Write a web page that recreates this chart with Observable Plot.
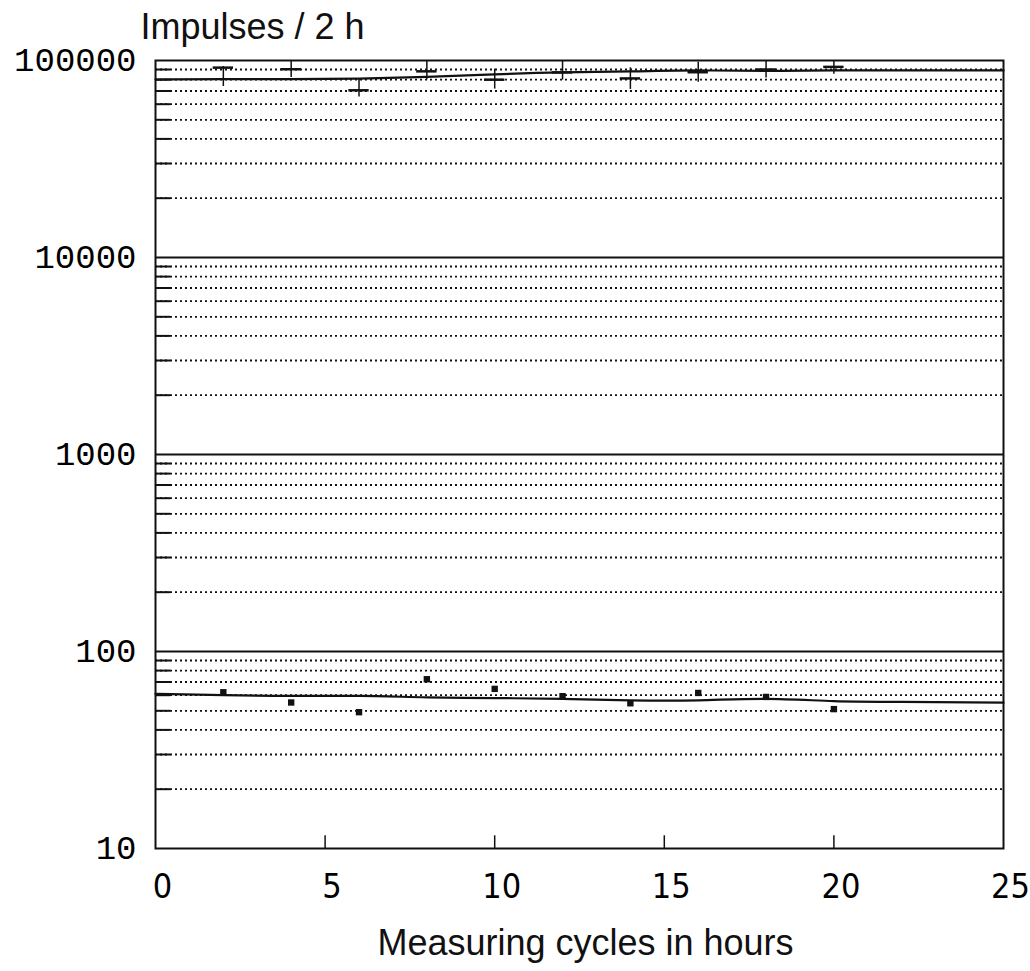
<!DOCTYPE html>
<html><head><meta charset="utf-8">
<script src="https://cdn.jsdelivr.net/npm/d3@7"></script>
<script src="https://cdn.jsdelivr.net/npm/@observablehq/plot@0.6"></script>
<style>body{margin:0;background:#fff}</style>
</head><body><div id="chart"></div>
<script>
// Measuring points (hours)
const hours = [2, 4, 6, 8, 10, 12, 14, 16, 18, 20];
// Upper series (impulses / 2 h): mean, lower and upper error limits
const highMean = [92000, 90300, 70600, 88100, 79900, 87000, 81100, 87200, 90000, 92800];
const highLow  = [73800, 82000, 65300, 79900, 71600, 79600, 71300, 77600, 81400, 85200];
const highHigh = [93200, 99500, 80900, 99000, 90400, 99000, 91800, 98000, 99000, 99500];
// Smoothed curve through the upper series
const fitX = [0, 2, 4, 6, 8, 10, 12, 14, 16, 18, 20, 22, 25];
const highFit = [80000, 80500, 80500, 81000, 82500, 85000, 87000, 88000, 89000, 88500, 89000, 89000, 89000];
// Lower series (impulses / 2 h)
const lowMean = [62.1, 55.1, 49.2, 72.3, 64.6, 59.3, 54.6, 61.6, 58.8, 51.0];
const lowFit = [61, 60, 59.5, 59.5, 58.5, 58, 57.5, 56.5, 56.5, 57.5, 56, 55.5, 55];
// Axis ticks
const xTicks = [0, 5, 10, 15, 20, 25];
const yTicks = [10, 100, 1000, 10000, 100000];
const innerXTicks = [5, 10, 15, 20];

const decades = [100, 1000, 10000];
const minors = [];
for (const d of [10, 100, 1000, 10000]) for (let m = 2; m <= 9; m++) minors.push(d * m);

const idx = hours.map((_, i) => i);
const fit = fitX.map((x, i) => ({x, hi: highFit[i], lo: lowFit[i]}));
const ink = "#111";

const chart = Plot.plot({
  width: 1030,
  height: 971,
  marginLeft: 155,
  marginRight: 27,
  marginTop: 60,
  marginBottom: 123,
  x: {domain: [0, 25]},
  y: {type: "log", domain: [10, 100000]},
  marks: [
    // dotted minor grid with short solid stubs at the left
    Plot.ruleY(minors, {y: d => d, stroke: ink, strokeWidth: 1.8, strokeDasharray: "2,3"}),
    Plot.ruleY(minors, {y: d => d, x1: 0, x2: 0.45, stroke: ink, strokeWidth: 2}),
    // decade lines
    Plot.ruleY(decades, {y: d => d, stroke: ink, strokeWidth: 2}),
    // inner x ticks
    Plot.ruleX(innerXTicks, {x: d => d, y1: 10, y2: 11.6, stroke: ink, strokeWidth: 1.5}),
    Plot.frame({stroke: ink, strokeWidth: 2}),
    // upper series
    Plot.line(fit, {x: "x", y: "hi", curve: "natural", stroke: ink, strokeWidth: 2.2}),
    Plot.ruleX(idx, {x: i => hours[i], y1: i => highLow[i], y2: i => highHigh[i], stroke: ink, strokeWidth: 1.5}),
    Plot.ruleY(idx, {x1: i => hours[i] - 0.3, x2: i => hours[i] + 0.3, y: i => highMean[i], stroke: ink, strokeWidth: 2.5}),
    // lower series
    Plot.line(fit, {x: "x", y: "lo", curve: "natural", stroke: ink, strokeWidth: 2.2}),
    Plot.dot(idx, {x: i => hours[i], y: i => lowMean[i], symbol: "square", r: 3.6, fill: ink}),
    // axes
    Plot.axisX({ticks: xTicks, tickSize: 0, tickPadding: 25, dx: 7, fontSize: 34,
      fontFamily: "'Liberation Sans Narrow', 'DejaVu Sans Condensed', sans-serif", label: null, tickFormat: d => String(d)}),
    Plot.axisY({ticks: yTicks, tickSize: 0, tickPadding: 19, fontSize: 34,
      fontFamily: "'Liberation Mono', monospace", label: null, tickFormat: d => String(d)}),
    // titles
    Plot.text(["Impulses / 2 h"], {frameAnchor: "top-left", text: d => d, textAnchor: "start", dx: -15, dy: -47,
      fontSize: 36, fontFamily: "'Liberation Sans', Arial, sans-serif", fill: ink}),
    Plot.text(["Measuring cycles in hours"], {frameAnchor: "bottom", text: d => d, dx: 6, dy: 106,
      fontSize: 36, fontFamily: "'Liberation Sans', Arial, sans-serif", fill: ink})
  ]
});
document.getElementById("chart").append(chart);
</script>
</body></html>
